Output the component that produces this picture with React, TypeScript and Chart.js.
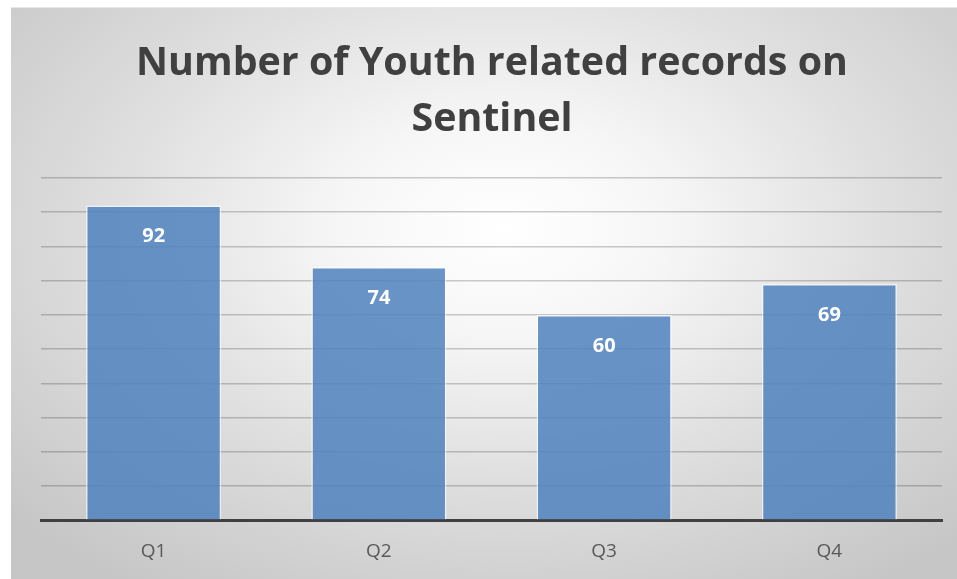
import React, { useEffect, useRef } from "react";
import { Chart, registerables } from "chart.js";

Chart.register(...registerables);

const titleLines = ["Number of Youth related records on", "Sentinel"];
const categories = ["Q1", "Q2", "Q3", "Q4"];
const values = [92, 74, 60, 69];
const yMin = 0;
const yMax = 100;
const yStep = 10;

const titlePlugin = {
  id: "customTitle",
  afterDraw(chart: any) {
    const ctx = chart.ctx;
    ctx.save();
    const targetWidth = 712;
    ctx.font = "bold 40px 'Open Sans'";
    const w = ctx.measureText(titleLines[0]).width;
    const size = 40 * targetWidth / w;
    ctx.font = `bold ${size}px 'Open Sans'`;
    ctx.fillStyle = "#404040";
    ctx.textAlign = "center";
    ctx.textBaseline = "middle";
    const cx = 492 - 11;
    ctx.fillText(titleLines[0], cx, 64 - 8);
    ctx.fillText(titleLines[1], cx, 120 - 8);
    ctx.restore();
  },
};

const labelPlugin = {
  id: "barLabels",
  afterDatasetsDraw(chart: any) {
    const ctx = chart.ctx;
    const meta = chart.getDatasetMeta(0);
    ctx.save();
    ctx.font = "bold 20px 'Open Sans'";
    ctx.fillStyle = "#ffffff";
    ctx.textAlign = "center";
    ctx.textBaseline = "middle";
    meta.data.forEach((bar: any, i: number) => {
      ctx.fillText(String(values[i]), bar.x, bar.y + 31);
    });
    ctx.restore();
  },
};

export default function App() {
  const ref = useRef<HTMLCanvasElement | null>(null);
  useEffect(() => {
    if (!ref.current) return;
    const chart = new Chart(ref.current, {
      type: "bar",
      data: {
        labels: categories,
        datasets: [
          {
            data: values,
            backgroundColor: "rgba(79,129,189,0.85)",
            borderColor: "rgba(255,255,255,0.6)",
            borderWidth: 1.5,
            categoryPercentage: 1,
            barPercentage: 0.6,
          },
        ],
      },
      options: {
        animation: false,
        responsive: false,
        maintainAspectRatio: false,
        layout: { padding: { left: 30, right: 15, top: 170, bottom: 0 } },
        plugins: {
          legend: { display: false },
          tooltip: { enabled: false },
          title: { display: false },
        },
        scales: {
          x: {
            grid: { display: false, drawTicks: false },
            border: { display: true, color: "#404040", width: 3 },
            ticks: {
              color: "#595959",
              font: { family: "'Open Sans'", size: 19 },
              padding: 20,
            },
          },
          y: {
            min: yMin,
            max: yMax,
            ticks: { display: false, stepSize: yStep },
            border: { display: false },
            grid: { color: "rgba(0,0,0,0.2)", lineWidth: 1.5, drawTicks: false },
          },
        },
      },
      plugins: [titlePlugin, labelPlugin],
    });
    return () => chart.destroy();
  }, []);
  return (
    <div
      style={{
        position: "fixed",
        left: 11,
        top: 7,
        width: 946,
        height: 576,
        background:
          "radial-gradient(ellipse 70% 75% at 52% 38%, #ffffff 0%, #f6f6f6 25%, #dedede 60%, #c6c6c6 100%)",
        borderTop: "1px solid #e8e8e8",
        boxSizing: "border-box",
      }}
    >
      <canvas ref={ref} width={946} height={575} style={{ display: "block" }} />
    </div>
  );
}
